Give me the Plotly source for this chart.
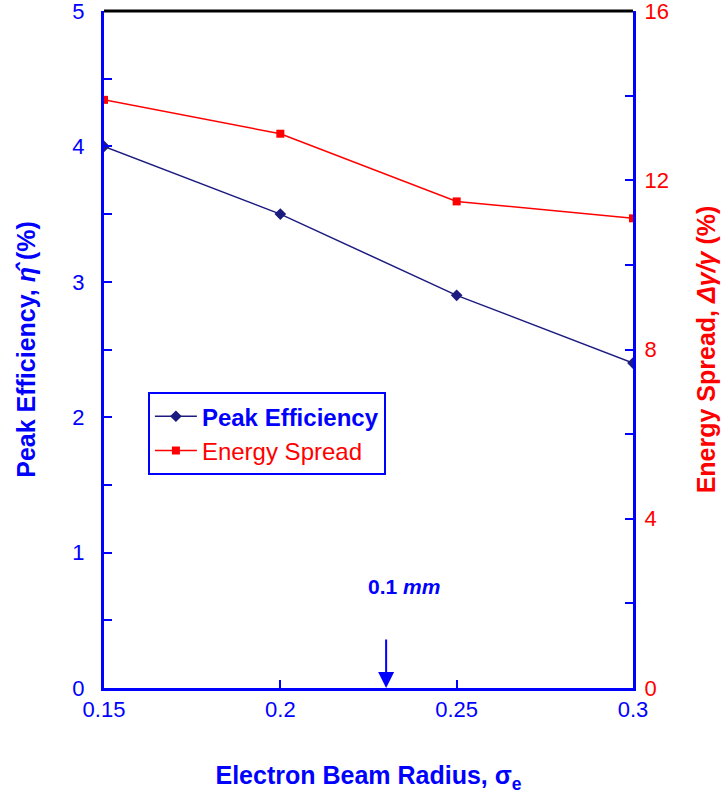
import plotly.graph_objects as go

# Electron beam radius values (x) and the two measured series
beam_radius = [0.15, 0.2, 0.25, 0.3]
peak_efficiency = [4.0, 3.5, 2.9, 2.4]      # %, left axis
energy_spread = [13.9, 13.1, 11.5, 11.1]    # %, right axis

marker_radius = 0.23
marker_label = "<b>0.1 <i>mm</i></b>"

BLUE = "#0000ff"
RED = "#ff0000"
NAVY = "#1c1c80"
FONT = "Liberation Sans, Arial, sans-serif"

fig = go.Figure()

fig.add_trace(go.Scatter(
    x=beam_radius, y=peak_efficiency,
    name=f"<b><span style='color:{BLUE}'>Peak Efficiency</span></b>",
    mode="lines+markers",
    line=dict(color=NAVY, width=1.5),
    marker=dict(symbol="diamond", size=9, color=NAVY),
    yaxis="y",
))
fig.add_trace(go.Scatter(
    x=beam_radius, y=energy_spread,
    name=f"<span style='color:{RED}'>Energy Spread</span>",
    mode="lines+markers",
    line=dict(color=RED, width=1.5),
    marker=dict(symbol="square", size=8, color=RED),
    yaxis="y2",
))

fig.update_layout(
    width=728, height=796,
    margin=dict(l=104, r=95, t=11, b=108),
    paper_bgcolor="white", plot_bgcolor="white",
    font=dict(family=FONT, size=22, color=BLUE),
    showlegend=True,
    legend=dict(
        x=0.083, y=0.437, xanchor="left", yanchor="top",
        bgcolor="white", bordercolor=BLUE, borderwidth=2,
        font=dict(family=FONT, size=24),
        itemwidth=42, tracegroupgap=0,
    ),
    xaxis=dict(
        range=[0.15, 0.3], dtick=0.05, tick0=0.15,
        automargin=False, ticklabeloverflow="allow",
        showgrid=False, zeroline=False,
        showline=True, linecolor=BLUE, linewidth=3,
        ticks="inside", ticklen=8, tickwidth=2, tickcolor=BLUE,
        ticklabelstandoff=0,
        tickfont=dict(color=BLUE, size=22),
        title=dict(text="<b>Electron Beam Radius, σ<sub>e</sub></b>",
                   font=dict(color=BLUE, size=25), standoff=46),
    ),
    yaxis=dict(
        range=[0, 5], dtick=1,
        automargin=False, ticklabeloverflow="allow",
        showgrid=False, zeroline=False,
        showline=True, linecolor=BLUE, linewidth=3,
        ticks="inside", ticklen=8, tickwidth=2, tickcolor=BLUE,
        minor=dict(dtick=0.5, ticks="inside", ticklen=8, tickwidth=2, tickcolor=BLUE),
        ticklabelstandoff=12,
        tickfont=dict(color=BLUE, size=22),
        title=dict(text="<b>Peak Efficiency, <i>η̂</i> (%)</b>",
                   font=dict(color=BLUE, size=25), standoff=30),
    ),
    yaxis2=dict(
        range=[0, 16], dtick=4, overlaying="y", side="right",
        automargin=False, ticklabeloverflow="allow",
        showgrid=False, zeroline=False,
        showline=True, linecolor=BLUE, linewidth=3,
        ticks="inside", ticklen=8, tickwidth=2, tickcolor=BLUE,
        minor=dict(dtick=2, ticks="inside", ticklen=8, tickwidth=2, tickcolor=BLUE),
        ticklabelstandoff=4,
        tickfont=dict(color=RED, size=22),
        title=dict(text="<b>Energy Spread, <i>Δγ/γ</i> (%)</b>",
                   font=dict(color=RED, size=25), standoff=30),
    ),
)

# Black top border of the plot frame
fig.add_shape(type="line", xref="paper", yref="paper",
              x0=0, x1=1, y0=1, y1=1, line=dict(color="black", width=3))

# Downward arrow marking the 0.1 mm radius
fig.add_annotation(x=marker_radius, y=0, xref="x", yref="y",
                   ax=0, ay=-50, axref="pixel", ayref="pixel",
                   text="", showarrow=True, arrowhead=2, arrowsize=1.6,
                   arrowwidth=2, arrowcolor=BLUE)
fig.add_annotation(x=marker_radius, y=0.75, xref="x", yref="y",
                   text=marker_label, showarrow=False, xshift=18,
                   font=dict(color=BLUE, size=21))

fig.write_html("out.html")
